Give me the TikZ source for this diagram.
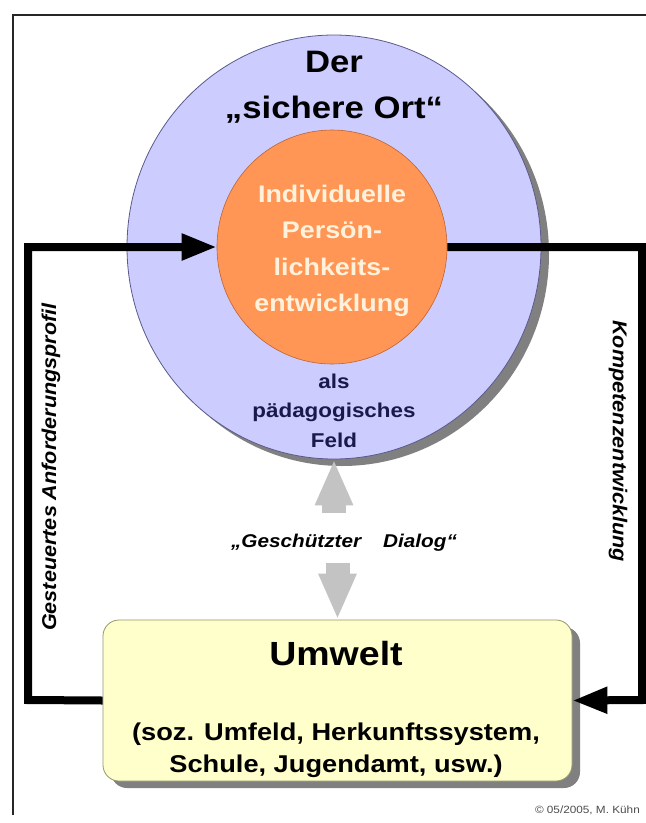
\documentclass[tikz,border=0pt]{standalone}
\usepackage{fontspec}
\setmainfont{Liberation Sans}[FakeStretch=1.12]
\newfontfamily\rotfont{Liberation Sans}[FakeStretch=1.08]
\usetikzlibrary{shapes.geometric,arrows.meta,shadows}
\definecolor{lav}{RGB}{204,204,255}
\definecolor{lavline}{RGB}{90,90,140}
\definecolor{orng}{RGB}{255,150,85}
\definecolor{orline}{RGB}{190,100,50}
\definecolor{cream}{RGB}{255,242,220}
\definecolor{navy}{RGB}{25,25,75}
\definecolor{boxfill}{RGB}{255,255,204}
\definecolor{boxline}{RGB}{150,150,110}
\definecolor{dialog}{RGB}{195,195,195}
\definecolor{shade}{RGB}{128,128,128}
\begin{document}
\begin{tikzpicture}[x=1pt,y=-1pt,
  conn/.style={line width=8pt, line join=miter, -{Triangle[length=35pt,width=25pt]}},
  dlg/.style={dialog, line width=24pt, -{Triangle[length=46pt,width=35pt]}},
  txt/.style={anchor=base, inner sep=0pt},
  head/.style={txt, font=\bfseries\fontsize{31}{31}\selectfont},
  inner/.style={txt, text=cream, font=\bfseries\fontsize{24}{24}\selectfont},
  feld/.style={txt, text=navy, font=\bfseries\fontsize{20}{20}\selectfont},
  boxtxt/.style={txt, font=\bfseries\fontsize{24.3}{24.3}\selectfont},
  side/.style={inner sep=0pt, font=\rotfont\bfseries\itshape\fontsize{20}{20}\selectfont},
  shad/.style={drop shadow={shadow xshift=8pt, shadow yshift=-7pt, fill=shade, opacity=1}}
]
\useasboundingbox (0,0) rectangle (646,823);
\fill[white] (0,0) rectangle (646,823);

% frame
\coordinate (fb) at (13,815);
\coordinate (ft) at (646,15);
\draw[line width=1.6pt, black!85] (fb) |- (ft);

% circles
\node[ellipse, draw=lavline, line width=0.8pt, fill=lav, minimum width=414pt, minimum height=424pt, inner sep=0pt, shad] (sicher) at (334,247) {};
\node[ellipse, draw=orline, line width=0.6pt, fill=orng, minimum width=230pt, minimum height=234pt, inner sep=0pt] (perso) at (332,247) {};

\node[head] (der) at (334,72) {Der};
\node[head] (ort) at (334,118) {„sichere Ort“};

\node[inner] (i1) at (332,202) {Individuelle};
\node[inner] (i2) at (332,238.5) {Persön-};
\node[inner] (i3) at (332,275) {lichkeits-};
\node[inner] (i4) at (332,311.5) {entwicklung};

\node[feld] (f1) at (334,388) {als};
\node[feld] (f2) at (334,417) {pädagogisches};
\node[feld] (f3) at (334,447) {Feld};

% Umwelt box
\node[draw=boxline, line width=0.8pt, fill=boxfill, rounded corners=16pt, minimum width=469pt, minimum height=161pt, inner sep=0pt, shad] (umwelt) at (337.5,700.5) {};
\node[txt, font=\bfseries\fontsize{33.5}{33.5}\selectfont] (uw) at (336,665) {Umwelt};
\node[boxtxt] (u1) at (336,740) {(soz. Umfeld, Herkunftssystem,};
\node[boxtxt] (u2) at (336,772) {Schule, Jugendamt, usw.)};

% dialog arrows
\coordinate (ua) at (334,513);
\coordinate (da) at (337.5,563);
\draw[dlg] (ua) -- (sicher.south);
\draw[dlg] (da) -- (umwelt.north);
\node[txt, font=\bfseries\itshape\fontsize{18.5}{18.5}\selectfont] (dia) at (344,547) {„Geschützter\hspace{22pt}Dialog“};

% loop connectors
\coordinate (lc) at (28,700);
\coordinate (rc) at (642,700);
\draw[conn] (umwelt.west) -- (lc) |- (perso.west);
\draw[conn] (perso.east) -| (rc) -- (umwelt.east);

% side labels
\node[side, rotate=90] (gest) at (51,467) {Gesteuertes Anforderungsprofil};
\node[side, rotate=-90] (komp) at (618,441) {Kompetenzentwicklung};

\node[anchor=base east, inner sep=0pt, text=black!70, font=\fontsize{10.5}{10.5}\selectfont] (copy) at (640,813) {© 05/2005, M. Kühn};
\end{tikzpicture}
\end{document}
